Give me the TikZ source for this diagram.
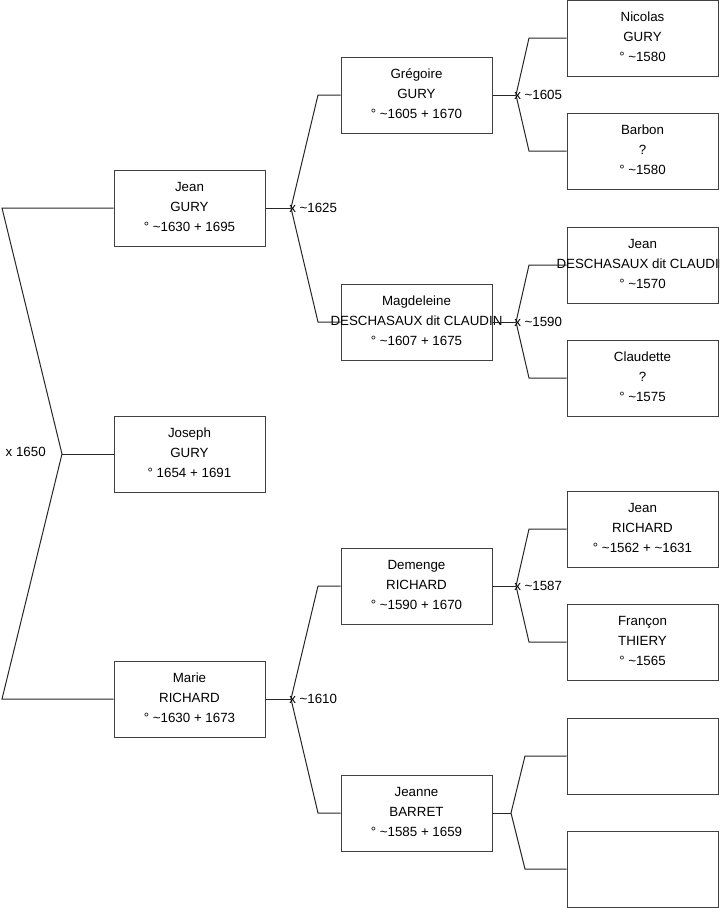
\documentclass[tikz,border=0pt]{standalone}
\usepackage{fontspec}
\setmainfont{Liberation Sans}
\begin{document}
\begin{tikzpicture}[x=0.75pt,y=-0.75pt,
 person/.style={draw=black!75, line width=0.75pt, minimum width=113.25pt, minimum height=57pt, inner sep=0pt},
 ptext/.style={inner sep=0pt, align=center, yshift=1pt, font=\fontsize{10}{15}\selectfont},
 link/.style={draw=black!85, line width=0.75pt},
 mlabel/.style={anchor=west, inner sep=0pt, xshift=-1.5pt, font=\fontsize{10}{12}\selectfont}]
\useasboundingbox (0,0) rectangle (719,908);
% column 1
\node[person] (jean) at (189.5,208) {};
\node[ptext] (jean-t) at (jean) {Jean\\GURY\\° \textasciitilde1630 + 1695};
\node[person] (joseph) at (189.5,454) {};
\node[ptext] (joseph-t) at (joseph) {Joseph\\GURY\\° 1654 + 1691};
\node[person] (marie) at (189.5,699) {};
\node[ptext] (marie-t) at (marie) {Marie\\RICHARD\\° \textasciitilde1630 + 1673};
% column 2
\node[person] (gregoire) at (416.5,95) {};
\node[ptext] (gregoire-t) at (gregoire) {Grégoire\\GURY\\° \textasciitilde1605 + 1670};
\node[person] (magdeleine) at (416.5,322) {};
\node[ptext] (magdeleine-t) at (magdeleine) {Magdeleine\\DESCHASAUX dit CLAUDIN\\° \textasciitilde1607 + 1675};
\node[person] (demenge) at (416.5,586) {};
\node[ptext] (demenge-t) at (demenge) {Demenge\\RICHARD\\° \textasciitilde1590 + 1670};
\node[person] (jeanne) at (416.5,813) {};
\node[ptext] (jeanne-t) at (jeanne) {Jeanne\\BARRET\\° \textasciitilde1585 + 1659};
% column 3
\node[person] (nicolas) at (642.5,38) {};
\node[ptext] (nicolas-t) at (nicolas) {Nicolas\\GURY\\° \textasciitilde1580};
\node[person] (barbon) at (642.5,151) {};
\node[ptext] (barbon-t) at (barbon) {Barbon\\?\\° \textasciitilde1580};
\node[person] (jeand) at (642.5,265) {};
\node[ptext] (jeand-t) at (jeand) {Jean\\DESCHASAUX dit CLAUDIN\\° \textasciitilde1570};
\node[person] (claudette) at (642.5,378) {};
\node[ptext] (claudette-t) at (claudette) {Claudette\\?\\° \textasciitilde1575};
\node[person] (jeanr) at (642.5,529) {};
\node[ptext] (jeanr-t) at (jeanr) {Jean\\RICHARD\\° \textasciitilde1562 + \textasciitilde1631};
\node[person] (francon) at (642.5,642) {};
\node[ptext] (francon-t) at (francon) {Françon\\THIERY\\° \textasciitilde1565};
\node[person] (empty1) at (642.5,756) {};
\node[person] (empty2) at (642.5,869) {};
% level 0
\coordinate (f0) at (62,454);
\coordinate (t0) at (2,208);
\coordinate (b0) at (2,699);
\draw[link] (jean.west) -- (t0) -- (f0) -- (b0) -- (marie.west);
\draw[link] (f0) -- (joseph.west);
\node[anchor=east, inner sep=0pt, font=\fontsize{10}{12}\selectfont] (m0) at (46,452) {x 1650};
% Jean GURY parents
\coordinate (f1) at (291,208);
\coordinate (t1) at (318,95);
\coordinate (b1) at (318,322);
\draw[link] (jean.east) -- (f1);
\draw[link] (gregoire.west) -- (t1) -- (f1) -- (b1) -- (magdeleine.west);
\node[mlabel] (m1) at (f1) {x \textasciitilde1625};
% Marie parents
\coordinate (f2) at (291,699);
\coordinate (t2) at (318,586);
\coordinate (b2) at (318,813);
\draw[link] (marie.east) -- (f2);
\draw[link] (demenge.west) -- (t2) -- (f2) -- (b2) -- (jeanne.west);
\node[mlabel] (m2) at (f2) {x \textasciitilde1610};
% Gregoire parents
\coordinate (f3) at (516,95);
\coordinate (t3) at (529,38);
\coordinate (b3) at (529,151);
\draw[link] (gregoire.east) -- (f3);
\draw[link] (nicolas.west) -- (t3) -- (f3) -- (b3) -- (barbon.west);
\node[mlabel] (m3) at (f3) {x \textasciitilde1605};
% Magdeleine parents
\coordinate (f4) at (516,322);
\coordinate (t4) at (529,265);
\coordinate (b4) at (529,378);
\draw[link] (magdeleine.east) -- (f4);
\draw[link] (jeand.west) -- (t4) -- (f4) -- (b4) -- (claudette.west);
\node[mlabel] (m4) at (f4) {x \textasciitilde1590};
% Demenge parents
\coordinate (f5) at (516,586);
\coordinate (t5) at (529,529);
\coordinate (b5) at (529,642);
\draw[link] (demenge.east) -- (f5);
\draw[link] (jeanr.west) -- (t5) -- (f5) -- (b5) -- (francon.west);
\node[mlabel] (m5) at (f5) {x \textasciitilde1587};
% Jeanne parents
\coordinate (f6) at (511,813);
\coordinate (t6) at (525,756);
\coordinate (b6) at (525,869);
\draw[link] (jeanne.east) -- (f6);
\draw[link] (empty1.west) -- (t6) -- (f6) -- (b6) -- (empty2.west);
\end{tikzpicture}
\end{document}
